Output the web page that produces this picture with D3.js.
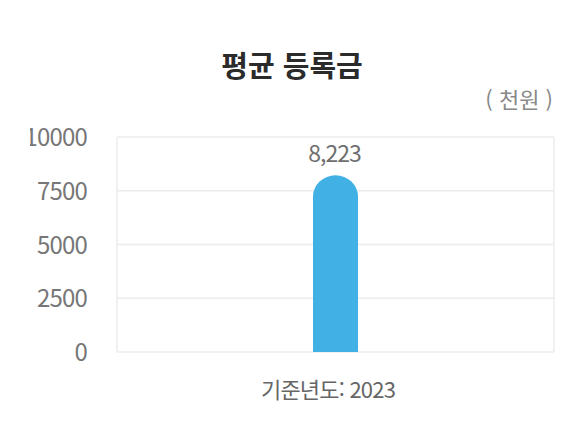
<!DOCTYPE html>
<html lang="ko">
<head>
<meta charset="utf-8">
<script src="https://cdn.jsdelivr.net/npm/d3@7"></script>
<style>
  html, body { margin: 0; padding: 0; background: #fff; overflow: hidden; }
  body { font-family: "Noto Sans CJK KR", "Noto Sans", sans-serif; }
  .tick text { fill: #777; font-size: 24px; letter-spacing: -0.8px; font-family: "Noto Sans CJK KR", sans-serif; }
</style>
</head>
<body>
<div id="chart"></div>
<script>
  // data
  const categories = ["2023"];
  const values = [8223];
  const yTicks = [0, 2500, 5000, 7500, 10000];
  const title = "평균 등록금";
  const unit = "( 천원 )";
  const xLabel = "기준년도: 2023";

  const W = 576, H = 425;
  const margin = { top: 137, right: 22, bottom: 73, left: 117 };
  const w = W - margin.left - margin.right;
  const h = H - margin.top - margin.bottom;

  const svg = d3.select("#chart").append("svg")
    .attr("width", W).attr("height", H);

  // the label column is cut at its left edge in the original
  svg.append("defs").append("clipPath").attr("id", "axisclip")
    .append("rect").attr("x", 30).attr("y", 0).attr("width", W).attr("height", H);

  svg.append("text")
    .attr("x", 292).attr("y", 77)
    .attr("text-anchor", "middle")
    .style("font-size", "29px").style("font-weight", "bold").style("fill", "#2b2b2b")
    .text(title);

  svg.append("text")
    .attr("x", 553).attr("y", 108)
    .attr("text-anchor", "end")
    .style("font-size", "22px").style("fill", "#888")
    .text(unit);

  const g = svg.append("g").attr("transform", `translate(${margin.left},${margin.top})`);

  const x = d3.scaleBand().domain(categories).range([0, w]).paddingInner(0).paddingOuter(0);
  const y = d3.scaleLinear().domain([0, 10000]).range([h, 0]);

  // grid
  g.append("g").selectAll("line").data(yTicks).join("line")
    .attr("x1", 0).attr("x2", w)
    .attr("y1", d => y(d)).attr("y2", d => y(d))
    .attr("stroke", "#ececec").attr("stroke-width", 1.5);
  g.append("line").attr("x1", 0).attr("x2", 0).attr("y1", 0).attr("y2", h)
    .attr("stroke", "#ececec").attr("stroke-width", 1.5);
  g.append("line").attr("x1", w).attr("x2", w).attr("y1", 0).attr("y2", h)
    .attr("stroke", "#ececec").attr("stroke-width", 1.5);

  const yAxis = svg.append("g")
    .attr("clip-path", "url(#axisclip)")
    .append("g")
    .attr("transform", `translate(${margin.left - 30},${margin.top})`)
    .call(d3.axisLeft(y).tickValues(yTicks).tickSize(0).tickPadding(0).tickFormat(d3.format("d")));
  yAxis.select(".domain").remove();
  yAxis.selectAll(".tick text").attr("dy", "0.36em");

  // bar with rounded top
  const barW = 45;
  const r = barW / 2;
  g.selectAll(".bar").data(values).join("path")
    .attr("class", "bar")
    .attr("fill", "#41b1e5")
    .attr("d", (d, i) => {
      const cx = x(categories[i]) + x.bandwidth() / 2;
      const x0 = cx - barW / 2, x1 = cx + barW / 2;
      const top = y(d) - 1, bot = y(0);
      return `M${x0},${bot}V${top + r}A${r},${r * 0.95} 0 0 1 ${x1},${top + r}V${bot}Z`;
    });

  g.selectAll(".lbl").data(values).join("text")
    .attr("class", "lbl")
    .attr("x", (d, i) => x(categories[i]) + x.bandwidth() / 2 - 1)
    .attr("y", d => y(d) - 13)
    .attr("text-anchor", "middle")
    .style("font-size", "23px").style("fill", "#6f6f6f").style("letter-spacing", "-1px")
    .text(d => d3.format(",")(d));

  svg.append("text")
    .attr("x", 328).attr("y", 398)
    .attr("text-anchor", "middle")
    .style("font-size", "22px").style("fill", "#666").style("letter-spacing", "-0.8px")
    .text(xLabel);
</script>
</body>
</html>
